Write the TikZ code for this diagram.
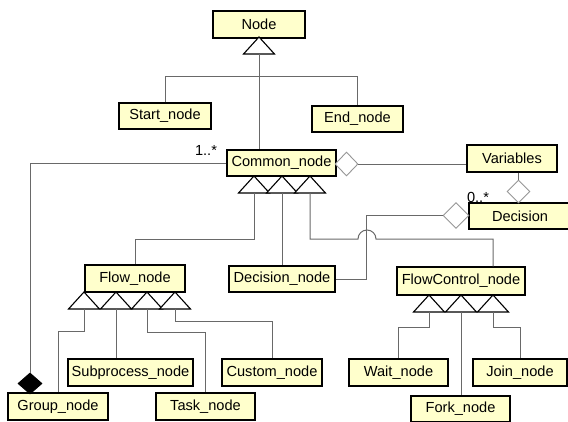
\documentclass[tikz,border=0pt]{standalone}
\usepackage{fontspec}
\setmainfont{Liberation Sans}
\definecolor{boxyellow}{RGB}{255,255,204}
\definecolor{wiregray}{RGB}{105,105,105}
\definecolor{diagray}{RGB}{150,150,150}
\usetikzlibrary{shapes.geometric, positioning}

\begin{document}
\begin{tikzpicture}[x=1pt, y=-1pt,
    c/.style={draw=black, line width=1.3pt, fill=boxyellow, inner sep=0pt,
              font=\fontsize{14.6}{16}\selectfont, minimum height=27pt},
    w/.style={draw=wiregray, line width=1pt},
    d/.style={diamond, draw=diagray, fill=white, line width=0.9pt, inner sep=0pt},
    lbl/.style={font=\fontsize{14.6}{16}\selectfont, inner sep=0pt},
    gen/.pic={\draw[black, line width=1.1pt, fill=white] (-15.5,0) -- (0,-17) -- (15.5,0) -- cycle;
              \coordinate (-b) at (0,0);}
  ]
  \useasboundingbox (0,0) rectangle (568,421);

  % classes
  \node[c, minimum width=92pt] (nd) at (259,24.5) {Node};
  \node[c, minimum width=92pt, minimum height=26pt] (st) at (165,116) {Start\_node};
  \node[c, minimum width=91pt, minimum height=26pt] (en) at (357.5,119) {End\_node};
  \node[c, minimum width=109pt, minimum height=26pt] (com) at (281.5,163) {Common\_node};
  \node[c, minimum width=90pt] (var) at (512,158.5) {Variables};
  \node[c, minimum width=102pt, minimum height=26pt] (dec) at (520,216) {Decision};
  \node[c, minimum width=100pt] (fl) at (135,278.5) {Flow\_node};
  \node[c, minimum width=106pt, minimum height=26pt] (dn) at (282,279) {Decision\_node};
  \node[c, minimum width=128pt, minimum height=28pt] (fc) at (461,281) {FlowControl\_node};
  \node[c, minimum width=125pt] (sub) at (130.5,372.5) {Subprocess\_node};
  \node[c, minimum width=100pt] (cus) at (272,372.5) {Custom\_node};
  \node[c, minimum width=100pt] (grp) at (58,406.5) {Group\_node};
  \node[c, minimum width=99pt] (tsk) at (205.5,406.5) {Task\_node};
  \node[c, minimum width=99pt] (wt) at (398.5,372.5) {Wait\_node};
  \node[c, minimum width=94pt] (jn) at (520,372.5) {Join\_node};
  \node[c, minimum width=99pt, minimum height=26pt] (fk) at (460.5,409) {Fork\_node};

  % aggregation diamonds
  \node[d, minimum width=23pt, minimum height=24pt] (d1) at (346.5,164) {};
  \node[d, minimum width=23pt, minimum height=23pt] (d2) at (518.5,191.5) {};
  \node[d, minimum width=26pt, minimum height=26pt] (d3) at (456,215.5) {};
  \node[d, draw=black, fill=black, minimum width=24pt, minimum height=21pt] (d4) at (30,383.5) {};

  % generalisation triangles
  \pic (nt) at (259,54) {gen};
  \foreach \n/\x in {ct1/254, ct2/282, ct3/310}
    \pic (\n) at (\x,193) {gen};
  \foreach \n/\x in {ft1/84, ft2/116, ft3/147, ft4/175}
    \pic (\n) at (\x,309) {gen};
  \foreach \n/\x in {wt1/429, wt2/461, wt3/493}
    \pic (\n) at (\x,312) {gen};

  % connectors
  \draw[w] (nt-b) -- (nt-b |- com.north);
  \draw[w] (st.north) -- ++(0,-26) -| (en.north);
  \draw[w] (ct1-b) -- ++(0,46) -| (fl.north);
  \draw[w] (ct2-b) -- (ct2-b |- dn.north);
  \draw[w] (ct3-b) -- ++(0,46) -- (358,239) arc[start angle=180, end angle=360, radius=9]
    -| ([xshift=32pt]fc.north);
  \draw[w] (d3.west) -- ++(-76,0) |- (dn.east);
  \draw[w] (d1.east) -- (d1.east -| var.west);
  \draw[w] (var.south -| d2.north) -- (d2.north);
  \draw[w] (com.west) -| (d4.north);
  \draw[w] (ft1-b) -- ++(0,22) -| (grp.north);
  \draw[w] (ft2-b) -- (ft2-b |- sub.north);
  \draw[w] (ft3-b) -- ++(0,23) -| (tsk.north);
  \draw[w] (ft4-b) -- ++(0,12) -| (cus.north);
  \draw[w] (wt1-b) -- ++(0,15) -| (wt.north);
  \draw[w] (wt2-b) -- (wt2-b |- fk.north);
  \draw[w] (wt3-b) -- ++(0,15) -| (jn.north);

  % multiplicities
  \node[lbl] (m1) at (206,150) {1..*};
  \node[lbl] (m2) at (478,197) {0..*};
\end{tikzpicture}
\end{document}
